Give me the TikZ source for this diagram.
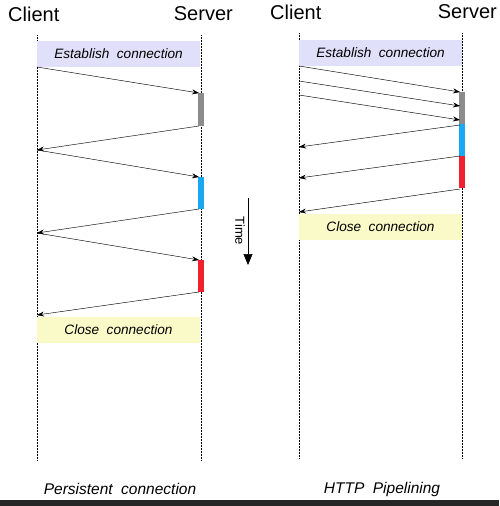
\documentclass[tikz,border=0pt]{standalone}
\usepackage{fontspec}
\setmainfont{Liberation Sans}
\usepackage{tikz}
\usetikzlibrary{arrows.meta}
\usepackage{xcolor}
\definecolor{estab}{HTML}{E0E0FA}
\definecolor{closec}{HTML}{FAFAC8}
\definecolor{reqgray}{HTML}{8C8C8C}
\definecolor{reqblue}{HTML}{1AA8F2}
\definecolor{reqred}{HTML}{F0202E}
\newcommand{\widewords}{\spaceskip=0.55em plus 0.1em\relax}

\tikzset{
    lifeline/.style={densely dotted, line width=0.5pt},
    msg/.style={line width=0.45pt, -{Stealth[length=7pt, width=5pt]}},
    phase/.style={inner sep=0pt, minimum height=26pt, font=\itshape\fontsize{13.6}{15}\selectfont\widewords},
    actor/.style={font=\fontsize{20}{22}\selectfont, inner sep=0pt},
    caption/.style={font=\itshape\fontsize{15.5}{17}\selectfont\widewords, inner sep=0pt}
}

\begin{document}
\begin{tikzpicture}[x=1pt, y=-1pt]
        \useasboundingbox (0, 0) rectangle (499, 506);
        % Persistent connection
        \node [actor, anchor=west] (pcl) at (8, 14) {Client};
        \node [actor, anchor=east] (psv) at (233, 14) {Server};
        \draw [lifeline] (37, 35) -- (37, 460);
        \draw [lifeline] (201, 35) -- (201, 460);
        \fill [estab] (37, 41) rectangle (200, 67);
        \node [phase] (pest) at (118.5, 54) {Establish connection};
        \fill [reqgray] (198, 93) rectangle (204, 126);
        \fill [reqblue] (198, 177) rectangle (204, 209);
        \fill [reqred] (198, 260) rectangle (204, 292);
        % 1
        \coordinate (pa1) at (37, 67);   \coordinate (pb1) at (199, 93);
        \coordinate (pc1) at (199, 126); \coordinate (pd1) at (37, 150);
        % 2
        \coordinate (pa2) at (37, 150);  \coordinate (pb2) at (199, 177);
        \coordinate (pc2) at (199, 209); \coordinate (pd2) at (37, 233);
        % 3
        \coordinate (pa3) at (37, 233);  \coordinate (pb3) at (199, 260);
        \coordinate (pc3) at (199, 292); \coordinate (pd3) at (37, 315);
        \foreach \i in {1, 2, 3} {
            \draw [msg] (pa\i) -- (pb\i);
            \draw [msg] (pc\i) -- (pd\i);
        }
        \fill [closec] (37, 317) rectangle (200, 343);
        \node [phase] (pclose) at (118.5, 330) {Close connection};
        \node [caption] (pcap) at (120, 489) {Persistent connection};
        % Time
        \coordinate (t0) at (248, 198);
        \coordinate (t1) at (248, 265);
        \draw [line width=0.6pt, -{Triangle[length=11pt, width=9pt]}] (t0) -- (t1);
        \node [rotate=-90, font=\fontsize{13}{14}\selectfont, inner sep=0pt] (time) at (240, 231) {Time};
        % HTTP Pipelining
        \node [actor, anchor=west] (hcl) at (270, 12) {Client};
        \node [actor, anchor=east] (hsv) at (497, 12) {Server};
        \draw [lifeline] (299, 33) -- (299, 458);
        \draw [lifeline] (462, 33) -- (462, 458);
        \fill [estab] (299, 40) rectangle (462, 66);
        \node [phase] (hest) at (380.5, 53) {Establish connection};
        \fill [reqgray] (459, 92) rectangle (465, 124);
        \fill [reqblue] (459, 124) rectangle (465, 156);
        \fill [reqred] (459, 156) rectangle (465, 188);
        \coordinate (ha1) at (299, 66);  \coordinate (hb1) at (460, 92);
        \coordinate (ha2) at (299, 81);  \coordinate (hb2) at (460, 106);
        \coordinate (ha3) at (299, 95);  \coordinate (hb3) at (460, 120);
        \coordinate (hc1) at (460, 125); \coordinate (hd1) at (299, 147);
        \coordinate (hc2) at (460, 156); \coordinate (hd2) at (299, 178);
        \coordinate (hc3) at (460, 189); \coordinate (hd3) at (299, 212);
        \foreach \i in {1, 2, 3} {
            \draw [msg] (ha\i) -- (hb\i);
            \draw [msg] (hc\i) -- (hd\i);
        }
        \fill [closec] (299, 214) rectangle (462, 240);
        \node [phase] (hclose) at (380.5, 227) {Close connection};
        \node [caption] (hcap) at (382, 489) {HTTP Pipelining};
        % Bottom rule
        \fill [black!85] (0, 500) rectangle (499, 506);
\end{tikzpicture}
\end{document}
